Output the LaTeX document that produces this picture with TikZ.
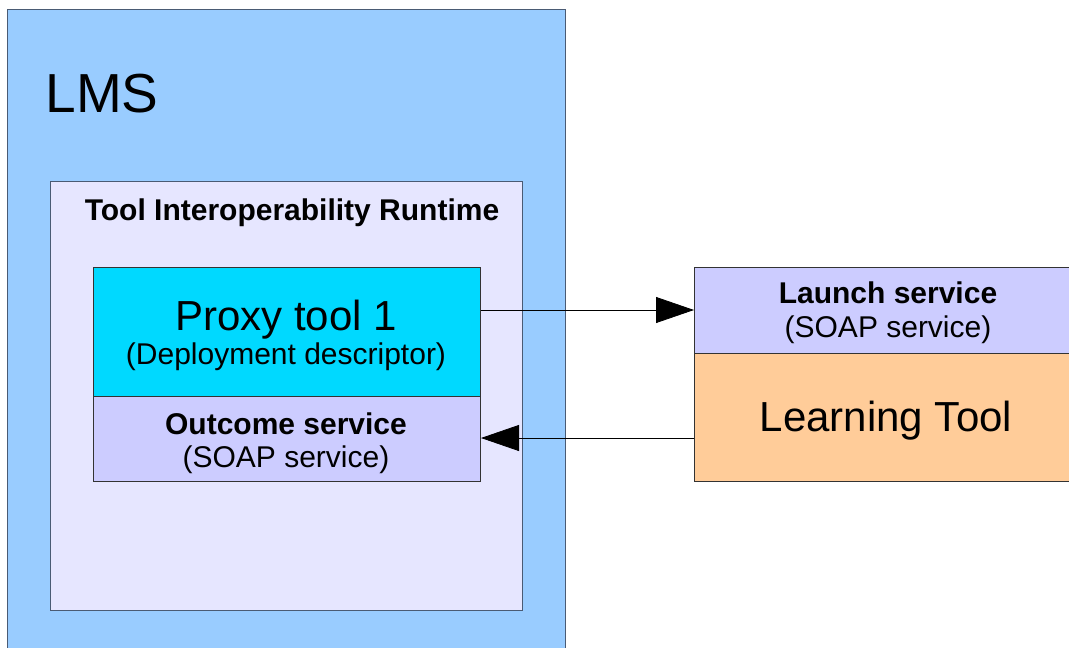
\documentclass[tikz,border=0pt]{standalone}
\usepackage{fontspec}
\setmainfont{Liberation Sans}
\usetikzlibrary{arrows.meta}
\definecolor{lmsblue}{HTML}{99CCFF}
\definecolor{rtlilac}{HTML}{E6E6FF}
\definecolor{proxycyan}{HTML}{00D9FF}
\definecolor{svclilac}{HTML}{CCCCFF}
\definecolor{tooltan}{HTML}{FFCC99}
\definecolor{frame}{HTML}{4A5B74}
\tikzset{
  box/.style={draw=#1, line width=1pt, inner sep=0pt, anchor=north west},
  link/.style={line width=0.8pt, -{Triangle[length=38pt,width=26pt]}},
  big/.style={anchor=base, font=\fontsize{42}{50}\selectfont},
  small/.style={anchor=base, font=\fontsize{30}{36}\selectfont},
  smallbold/.style={anchor=base, font=\bfseries\fontsize{30}{36}\selectfont},
}
\begin{document}
\begin{tikzpicture}[x=1pt,y=-1pt]
\useasboundingbox (0,0) rectangle (1069,648);
% LMS container
\fill[lmsblue] (7,9) rectangle (565,660);
\draw[frame, line width=1pt] (7,660) -- (7,9) -- (565,9) -- (565,660);
\node[anchor=base west, font=\fontsize{55}{66}\selectfont] (lms) at (42,112) {LMS};
% Runtime
\node[box=frame, fill=rtlilac, minimum width=472pt, minimum height=429pt] (rt) at (50,181) {};
\node[smallbold] (rtlabel) at (292,220) {Tool Interoperability Runtime};
% Proxy tool and outcome service
\node[box=black!80, fill=proxycyan, minimum width=387pt, minimum height=129pt] (proxy) at (93,267) {};
\node[big] (proxyt) at (286,330) {Proxy tool 1};
\node[small] (proxyd) at (286,364) {(Deployment descriptor)};
\node[box=black!80, fill=svclilac, minimum width=387pt, minimum height=85pt] (outcome) at (93,396) {};
\node[smallbold] (outt) at (286,434) {Outcome service};
\node[small] (outs) at (286,467) {(SOAP service)};
% Learning tool side
\node[box=black!80, fill=svclilac, minimum width=390pt, minimum height=86pt] (launch) at (694,267) {};
\node[smallbold] (lt) at (888,303) {Launch service};
\node[small] (ls) at (888,337) {(SOAP service)};
\node[box=black!80, fill=tooltan, minimum width=390pt, minimum height=128pt] (tool) at (694,353) {};
\node[big] (toolt) at (886,431) {Learning Tool};
% Connectors
\draw[link] (proxy.east |- 0,310) -- (launch.west |- 0,310);
\draw[link] (tool.west |- 0,438) -- (outcome.east |- 0,438);
\end{tikzpicture}
\end{document}
